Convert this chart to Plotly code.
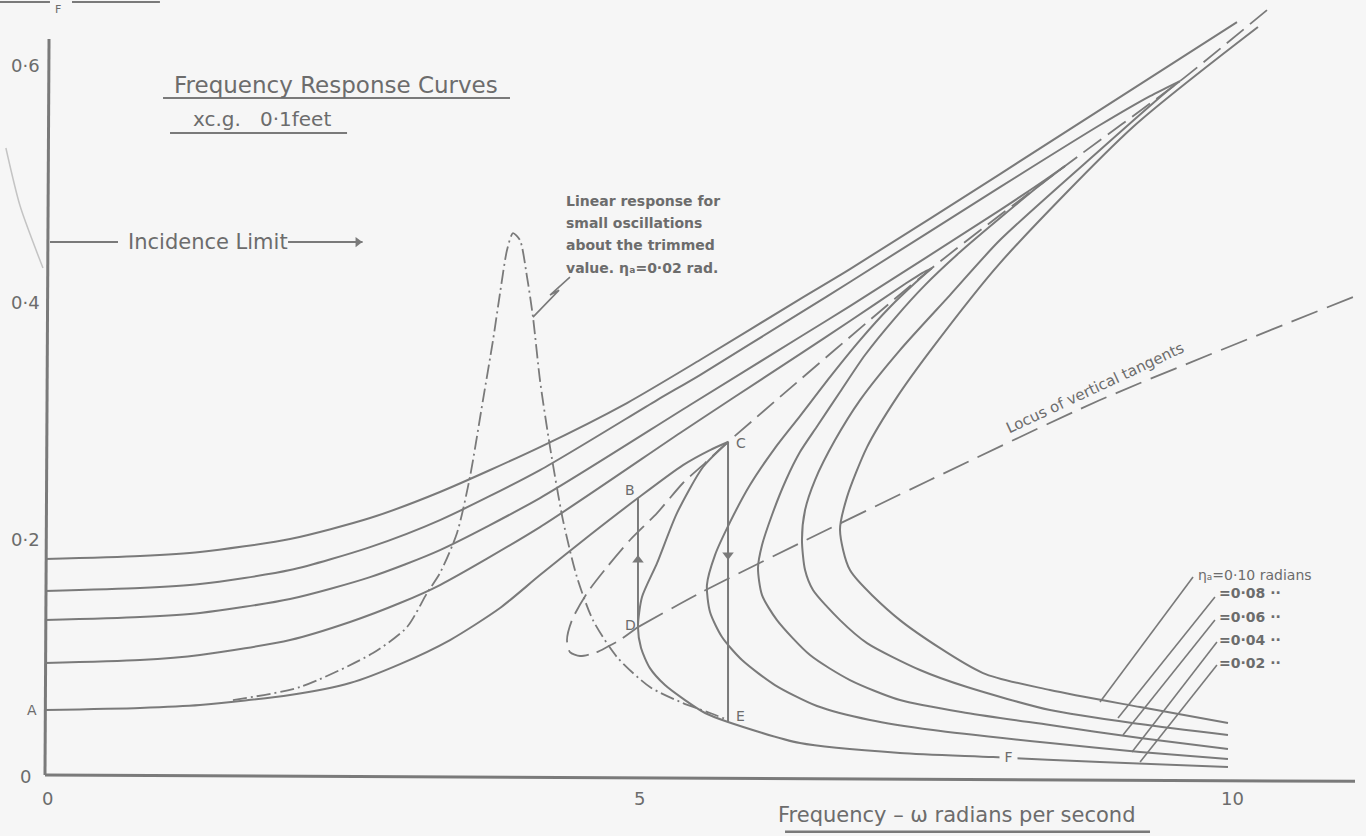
import plotly.graph_objects as go

FONT = "DejaVu Sans"
LINE = "#7a7a7a"
TEXT = "#6c6c6c"
BG = "#f6f6f6"

# ---------------- axes / ticks ----------------
x_range = [-0.3797, 11.1477]
y_range = [-0.0506, 0.6549]
x_tick_vals = [0, 5, 10]
x_tick_text = ["0", "5", "10"]
y_tick_vals = [0, 0.2, 0.4, 0.6]
y_tick_text = ["0", "0·2", "0·4", "0·6"]

# ---------------- response curves ----------------
eta_names = ["0·10", "0·08", "0·06", "0·04", "0·02"]

# eta = 0.02 rad
eta02_up_x = [0, 0.802, 1.308, 2.068, 2.574, 2.996, 3.418, 3.840, 4.177, 4.599, 5.004, 5.384, 5.612, 5.764]
eta02_up_y = [0.0557, 0.0574, 0.0599, 0.0684, 0.0785, 0.0945, 0.1148, 0.1418, 0.1696, 0.2034, 0.2346, 0.2624, 0.2751, 0.2819]
eta02_lo_x = [5.764, 5.553, 5.333, 5.165, 5.038, 5.004, 5.030, 5.105, 5.232, 5.401, 5.570, 5.764, 6.371, 7.215, 8.000, 8.903, 9.983]
eta02_lo_y = [0.2819, 0.2608, 0.2219, 0.1797, 0.1511, 0.1257, 0.1080, 0.0911, 0.0768, 0.0641, 0.0532, 0.0456, 0.0278, 0.0194, 0.0160, 0.0118, 0.0076]

# eta = 0.04 rad
eta04_up_x = [0, 0.802, 1.308, 2.068, 2.574, 2.996, 3.333, 4.177, 5.359, 5.806, 6.371, 6.793, 7.257, 7.401, 7.485]
eta04_up_y = [0.0954, 0.0979, 0.1021, 0.1148, 0.1300, 0.1460, 0.1612, 0.2101, 0.2895, 0.3190, 0.3561, 0.3840, 0.4152, 0.4245, 0.4287]
eta04_lo_x = [7.485, 7.342, 7.131, 6.878, 6.624, 6.371, 6.160, 5.949, 5.781, 5.654, 5.586, 5.612, 5.713, 5.882, 6.160, 6.515, 6.962, 7.494, 8.481, 9.241, 9.983]
eta04_lo_y = [0.4287, 0.4160, 0.3958, 0.3679, 0.3367, 0.3038, 0.2768, 0.2456, 0.2143, 0.1865, 0.1612, 0.1384, 0.1173, 0.0979, 0.0768, 0.0591, 0.0473, 0.0388, 0.0278, 0.0203, 0.0143]

# eta = 0.06 rad
eta06_up_x = [0, 0.802, 1.308, 2.068, 2.743, 3.333, 4.177, 5.443, 6.371, 6.793, 8.059, 8.439, 8.608]
eta06_up_y = [0.1316, 0.1342, 0.1376, 0.1494, 0.1679, 0.1907, 0.2346, 0.3131, 0.3705, 0.3966, 0.4776, 0.5030, 0.5148]
eta06_lo_x = [8.608, 8.397, 8.059, 7.722, 7.426, 7.173, 6.920, 6.709, 6.523, 6.371, 6.253, 6.135, 6.051, 6.017, 6.051, 6.177, 6.456, 6.793, 7.215, 7.781, 8.481, 9.241, 9.983]
eta06_lo_y = [0.5148, 0.4987, 0.4709, 0.4422, 0.4143, 0.3865, 0.3553, 0.3241, 0.2962, 0.2734, 0.2498, 0.2203, 0.1949, 0.1755, 0.1527, 0.1316, 0.1021, 0.0810, 0.0641, 0.0532, 0.0430, 0.0321, 0.0228]

# eta = 0.08 rad
eta08_up_x = [0, 0.802, 1.308, 2.068, 2.743, 3.333, 4.177, 5.165, 5.527, 6.371, 6.793, 8.059, 8.903, 9.325, 9.578]
eta08_up_y = [0.1561, 0.1586, 0.1620, 0.1738, 0.1932, 0.2160, 0.2582, 0.3173, 0.3384, 0.3907, 0.4169, 0.4970, 0.5494, 0.5738, 0.5865]
eta08_lo_x = [9.578, 9.451, 8.903, 8.059, 7.637, 7.215, 6.878, 6.667, 6.498, 6.414, 6.388, 6.414, 6.481, 6.709, 6.937, 7.384, 7.781, 8.481, 9.241, 9.983]
eta08_lo_y = [0.5865, 0.5764, 0.5283, 0.4523, 0.4059, 0.3595, 0.3173, 0.2835, 0.2498, 0.2245, 0.1992, 0.1738, 0.1570, 0.1316, 0.1122, 0.0895, 0.0751, 0.0557, 0.0439, 0.0346]

# eta = 0.10 rad (tip lies beyond the top of the sheet)
eta10_up_x = [0, 0.802, 1.308, 2.068, 2.743, 3.333, 4.177, 4.911, 5.527, 6.371, 6.793, 8.059, 10.059]
eta10_up_y = [0.1831, 0.1857, 0.1890, 0.2000, 0.2177, 0.2397, 0.2776, 0.3148, 0.3511, 0.4025, 0.4278, 0.5080, 0.6363]
eta10_lo_x = [10.236, 9.181, 8.059, 7.494, 7.190, 6.937, 6.768, 6.709, 6.793, 7.215, 7.916, 8.481, 9.241, 9.983]
eta10_lo_y = [0.6321, 0.5477, 0.4329, 0.3620, 0.3198, 0.2776, 0.2354, 0.2076, 0.1738, 0.1316, 0.0869, 0.0726, 0.0582, 0.0447]

# backbone (locus of peaks), dashed, ending in the loop at D
backbone_x = [10.312, 9.578, 8.608, 7.485, 5.764, 5.570, 5.384, 5.165, 4.937, 4.743, 4.574, 4.447, 4.405, 4.430, 4.515, 4.658, 4.743, 4.852, 5.004]
backbone_y = [0.6464, 0.5865, 0.5148, 0.4287, 0.2819, 0.2641, 0.2473, 0.2219, 0.1992, 0.1764, 0.1544, 0.1316, 0.1148, 0.1046, 0.1013, 0.1046, 0.1089, 0.1148, 0.1257]

# locus of vertical tangents
locus_x = [5.004, 5.527, 6.371, 7.468, 8.903, 11.038]
locus_y = [0.1257, 0.1544, 0.1966, 0.2498, 0.3173, 0.4042]

# linear response, eta_a = 0.02 rad (dash-dot)
linear_x = [1.586, 2.152, 2.768, 3.055, 3.224, 3.333, 3.477, 3.586, 3.696, 3.781, 3.840, 3.899, 3.949, 4.008, 4.068, 4.118, 4.177, 4.262, 4.371, 4.489, 4.624, 4.827, 5.105, 5.384, 5.612, 5.764]
linear_y = [0.0641, 0.0751, 0.1038, 0.1257, 0.1544, 0.1713, 0.2051, 0.2523, 0.3173, 0.3679, 0.4076, 0.4439, 0.4582, 0.4523, 0.4211, 0.3873, 0.3342, 0.2776, 0.2160, 0.1679, 0.1316, 0.1004, 0.0751, 0.0616, 0.0532, 0.0473]

# jump lines  B-D (up) and C-E (down)
jump_up_x = [5.004, 5.004]
jump_up_y = [0.1257, 0.2346]
jump_down_x = [5.764, 5.764]
jump_down_y = [0.2819, 0.0456]
arrow_x = [5.004, 5.764]
arrow_y = [0.1823, 0.1865]
arrow_sym = ["triangle-up", "triangle-down"]

point_names = ["A", "B", "C", "D", "E"]
point_x = [-0.110, 4.937, 5.873, 4.937, 5.873]
point_y = [0.0557, 0.2414, 0.2810, 0.1274, 0.0506]

# label leaders for eta values (curve end -> label end)
leader_x0 = [8.903, 9.055, 9.097, 9.173, 9.241]
leader_y0 = [0.0624, 0.0489, 0.0346, 0.0203, 0.0118]
leader_x1 = [9.688, 9.873, 9.873, 9.890, 9.890]
leader_y1 = [0.1679, 0.1511, 0.1316, 0.1131, 0.0937]
label_x = [9.722, 9.899, 9.899, 9.899, 9.899]
label_y = [0.1696, 0.1544, 0.1342, 0.1148, 0.0954]

incidence_level = 0.4506

fig = go.Figure()


def line(x, y, width=2.0, dash=None, color=LINE, spline=True):
    fig.add_trace(go.Scatter(
        x=x, y=y, mode="lines", hoverinfo="skip", showlegend=False,
        line=dict(color=color, width=width, dash=dash,
                  shape="spline" if spline else "linear", smoothing=0.7)))


# axes
line([0, 11.055], [0.0008, -0.0045], width=3, spline=False)
line([0, 0.034], [0.0008, 0.622], width=3, spline=False)

for ux, uy, lx, ly in [
    (eta02_up_x, eta02_up_y, eta02_lo_x, eta02_lo_y),
    (eta04_up_x, eta04_up_y, eta04_lo_x, eta04_lo_y),
    (eta06_up_x, eta06_up_y, eta06_lo_x, eta06_lo_y),
    (eta08_up_x, eta08_up_y, eta08_lo_x, eta08_lo_y),
    (eta10_up_x, eta10_up_y, eta10_lo_x, eta10_lo_y),
]:
    line(ux, uy)
    line(lx, ly)

line(backbone_x, backbone_y, width=1.8, dash="22px,8px")
line(locus_x, locus_y, width=1.8, dash="28px,10px")
line(linear_x, linear_y, width=1.8, dash="14px,4px,2px,4px")

line(jump_up_x, jump_up_y, spline=False)
line(jump_down_x, jump_down_y, spline=False)
fig.add_trace(go.Scatter(x=arrow_x, y=arrow_y, mode="markers", hoverinfo="skip", showlegend=False,
                         marker=dict(symbol=arrow_sym, size=10, color=LINE)))

# incidence limit arrow
line([0.042, 0.616], [incidence_level, incidence_level], spline=False)
line([2.051, 2.68], [incidence_level, incidence_level], spline=False)
fig.add_trace(go.Scatter(x=[2.64], y=[incidence_level], mode="markers", hoverinfo="skip", showlegend=False,
                         marker=dict(symbol="triangle-right", size=9, color=LINE)))

# eta label leaders
for i in range(len(eta_names)):
    line([leader_x0[i], leader_x1[i]], [leader_y0[i], leader_y1[i]], width=1.6, spline=False)

# lightning leader for linear response note
line([4.430, 4.262, 4.338, 4.118], [0.4211, 0.4059, 0.4101, 0.3873], width=1.6, spline=False)

# underlines
line([0.996, 3.924], [0.5722, 0.5722], width=2, spline=False)
line([1.055, 2.549], [0.5426, 0.5426], width=2, spline=False)
line([6.245, 9.325], [-0.0470, -0.0470], width=2.4, spline=False)

# stray marks of the scan
line([-0.380, 0.042], [0.6532, 0.6532], width=2, spline=False)
line([0.228, 0.970], [0.6532, 0.6532], width=2, spline=False)
line([-0.330, -0.210, -0.017], [0.5300, 0.4810, 0.4287], width=1.5, color="#c4c4c4")


def text(x, y, s, size, anchor="center", angle=0, bg=None, bold=False):
    fig.add_annotation(x=x, y=y, xref="x", yref="y", text=s, showarrow=False,
                       xanchor=anchor, yanchor="middle", textangle=angle,
                       bgcolor=bg, borderpad=0,
                       font=dict(family=FONT, size=size, color=TEXT,
                                 weight="bold" if bold else "normal"))


for v, t in zip(x_tick_vals, x_tick_text):
    text(v + 0.02, -0.0186, t, 18)
for v, t in zip(y_tick_vals, y_tick_text):
    text(-0.165, v, t, 18)

for n, px, py in zip(point_names, point_x, point_y):
    text(px, py, n, 14)
text(8.127, 0.0160, " F ", 14, bg=BG)
text(0.11, 0.6470, "F", 11)

text(2.456, 0.5829, "Frequency Response Curves", 23)
text(1.83, 0.5545, "xc.g.   0·1feet", 20)
text(1.376, incidence_level, "Incidence Limit", 21)
text(7.70, -0.0325, "Frequency – ω radians per second", 21)

note_lines = ["Linear response for", "small oscillations", "about the trimmed",
              "value. ηₐ=0·02 rad."]
note_y = [0.4852, 0.4667, 0.4481, 0.4287]
for s, yy in zip(note_lines, note_y):
    text(4.388, yy, s, 14, anchor="left", bold=True)

text(8.861, 0.3274, "Locus of vertical tangents", 15, angle=-25)

for i, name in enumerate(eta_names):
    if i == 0:
        s = "ηₐ=" + name + " radians"
    else:
        s = "=" + name + " ··"
    text(label_x[i], label_y[i], s, 14, anchor="left", bold=(i > 0))

fig.update_layout(
    width=1366, height=836, autosize=False,
    margin=dict(l=0, r=0, t=0, b=0),
    paper_bgcolor=BG, plot_bgcolor=BG,
    xaxis=dict(range=x_range, visible=False, fixedrange=True),
    yaxis=dict(range=y_range, visible=False, fixedrange=True),
    showlegend=False,
)

fig.write_html(
    "out.html",
    config={"displayModeBar": False, "staticPlot": True},
    post_script="document.body.style.margin='0px';document.body.style.padding='0px';"
                "document.body.style.overflow='hidden';",
)
